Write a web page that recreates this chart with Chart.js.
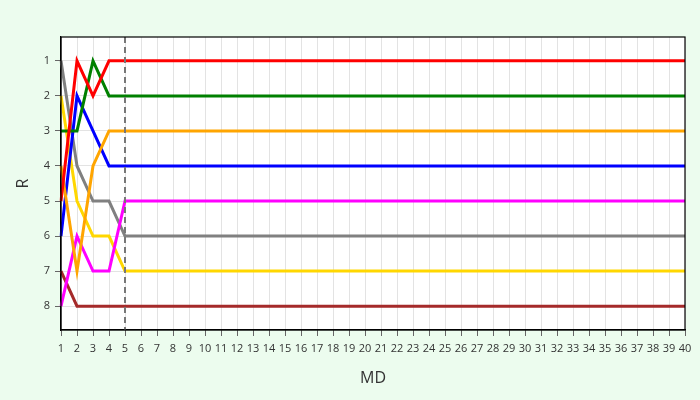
<!DOCTYPE html>
<html>
<head>
<meta charset="utf-8">
<script src="https://cdn.jsdelivr.net/npm/chart.js@4"></script>
<style>
	html, body { margin: 0; padding: 0; background: #ecfcee; }
	#wrap { width: 700px; height: 400px; }
</style>
</head>
<body>
<div id="wrap"><canvas id="rankChart" width="700" height="400"></canvas></div>
<script>
// rank chart - R by MD

const mdLabels = [1, 2, 3, 4, 5, 6, 7, 8, 9, 10, 11, 12, 13, 14, 15, 16, 17, 18, 19, 20,
	21, 22, 23, 24, 25, 26, 27, 28, 29, 30, 31, 32, 33, 34, 35, 36, 37, 38, 39, 40];
const rankTicks = [1, 2, 3, 4, 5, 6, 7, 8];
const markerMD = 5;

const redRanks = [5, 1, 2, 1, 1, 1, 1, 1, 1, 1, 1, 1, 1, 1, 1, 1, 1, 1, 1, 1,
	1, 1, 1, 1, 1, 1, 1, 1, 1, 1, 1, 1, 1, 1, 1, 1, 1, 1, 1, 1];
const greenRanks = [3, 3, 1, 2, 2, 2, 2, 2, 2, 2, 2, 2, 2, 2, 2, 2, 2, 2, 2, 2,
	2, 2, 2, 2, 2, 2, 2, 2, 2, 2, 2, 2, 2, 2, 2, 2, 2, 2, 2, 2];
const orangeRanks = [4, 7, 4, 3, 3, 3, 3, 3, 3, 3, 3, 3, 3, 3, 3, 3, 3, 3, 3, 3,
	3, 3, 3, 3, 3, 3, 3, 3, 3, 3, 3, 3, 3, 3, 3, 3, 3, 3, 3, 3];
const blueRanks = [6, 2, 3, 4, 4, 4, 4, 4, 4, 4, 4, 4, 4, 4, 4, 4, 4, 4, 4, 4,
	4, 4, 4, 4, 4, 4, 4, 4, 4, 4, 4, 4, 4, 4, 4, 4, 4, 4, 4, 4];
const magentaRanks = [8, 6, 7, 7, 5, 5, 5, 5, 5, 5, 5, 5, 5, 5, 5, 5, 5, 5, 5, 5,
	5, 5, 5, 5, 5, 5, 5, 5, 5, 5, 5, 5, 5, 5, 5, 5, 5, 5, 5, 5];
const grayRanks = [1, 4, 5, 5, 6, 6, 6, 6, 6, 6, 6, 6, 6, 6, 6, 6, 6, 6, 6, 6,
	6, 6, 6, 6, 6, 6, 6, 6, 6, 6, 6, 6, 6, 6, 6, 6, 6, 6, 6, 6];
const goldRanks = [2, 5, 6, 6, 7, 7, 7, 7, 7, 7, 7, 7, 7, 7, 7, 7, 7, 7, 7, 7,
	7, 7, 7, 7, 7, 7, 7, 7, 7, 7, 7, 7, 7, 7, 7, 7, 7, 7, 7, 7];
const brownRanks = [7, 8, 8, 8, 8, 8, 8, 8, 8, 8, 8, 8, 8, 8, 8, 8, 8, 8, 8, 8,
	8, 8, 8, 8, 8, 8, 8, 8, 8, 8, 8, 8, 8, 8, 8, 8, 8, 8, 8, 8];

const series = [
	{ data: redRanks, color: '#ff0000' },
	{ data: greenRanks, color: '#008000' },
	{ data: orangeRanks, color: '#ffa500' },
	{ data: blueRanks, color: '#0000ff' },
	{ data: magentaRanks, color: '#ff00ff' },
	{ data: grayRanks, color: '#808080' },
	{ data: goldRanks, color: '#ffd700' },
	{ data: brownRanks, color: '#a52a2a' }
];

// white plot area behind the lines, black box round it
const plotBox = {
	id: 'plotBox',
	beforeDraw(chart) {
		const { ctx, chartArea: a } = chart;
		ctx.save();
		ctx.fillStyle = '#ffffff';
		ctx.fillRect(a.left, a.top, a.right - a.left, a.bottom - a.top);
		ctx.restore();
	},
	afterDraw(chart) {
		const { ctx, chartArea: a } = chart;
		ctx.save();
		ctx.strokeStyle = '#000000';
		ctx.lineWidth = 1.2;
		ctx.strokeRect(a.left, a.top, a.right - a.left, a.bottom - a.top);
		ctx.restore();
	}
};

// dashed marker at MD = 5
const markerLine = {
	id: 'markerLine',
	afterDatasetsDraw(chart) {
		const { ctx, chartArea: a } = chart;
		const x = chart.scales.x.getPixelForValue(mdLabels.indexOf(markerMD));
		ctx.save();
		ctx.strokeStyle = '#777777';
		ctx.lineWidth = 2;
		ctx.setLineDash([6, 4]);
		ctx.beginPath();
		ctx.moveTo(x, a.top);
		ctx.lineTo(x, a.bottom);
		ctx.stroke();
		ctx.restore();
	}
};

Chart.defaults.font.family = '"Open Sans", sans-serif';
Chart.defaults.color = '#333333';

new Chart(document.getElementById('rankChart').getContext('2d'), {
	type: 'line',
	data: {
		labels: mdLabels,
		datasets: series.map(s => ({
			data: s.data,
			borderColor: s.color,
			backgroundColor: s.color,
			borderWidth: 3,
			pointRadius: 0,
			tension: 0,
			fill: false
		}))
	},
	options: {
		responsive: false,
		animation: false,
		layout: { padding: { top: 37, right: 15, left: 0, bottom: 0 } },
		plugins: {
			legend: { display: false },
			tooltip: { enabled: false }
		},
		scales: {
			x: {
				type: 'category',
				offset: false,
				afterFit: (scale) => { scale.height = 70; },
				grid: { color: '#e3e3e3', tickColor: '#666666', tickLength: 6, lineWidth: 1 },
				border: { color: '#000000', width: 1.2 },
				ticks: { autoSkip: false, maxRotation: 0, padding: 6, font: { size: 11 } },
				title: { display: true, text: 'MD', font: { size: 16 }, padding: { top: 4, bottom: 12 } }
			},
			y: {
				reverse: true,
				min: 0.32,
				max: 8.68,
				afterFit: (scale) => { scale.width = 61; },
				afterBuildTicks: (scale) => { scale.ticks = rankTicks.map(v => ({ value: v })); },
				grid: { color: '#e3e3e3', tickColor: '#666666', tickLength: 6, lineWidth: 1 },
				border: { color: '#000000', width: 1.2 },
				ticks: { padding: 5, font: { size: 11 } },
				title: { display: true, text: 'R', font: { size: 16 }, padding: { top: 14, bottom: 4 } }
			}
		}
	},
	plugins: [plotBox, markerLine]
});
</script>
</body>
</html>
